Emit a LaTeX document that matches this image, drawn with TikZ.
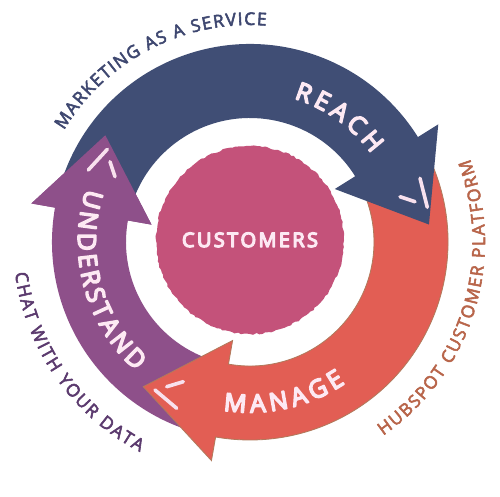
\documentclass[tikz,border=0pt]{standalone}
\usepackage{fontspec}
\usetikzlibrary{decorations.text,decorations.pathmorphing}
\newfontfamily\ringfont{Open Sans}
\newfontfamily\outfont{Open Sans}
\definecolor{reachblue}{HTML}{404E75}
\definecolor{undpurple}{HTML}{8E508A}
\definecolor{manorange}{HTML}{E25E54}
\definecolor{manedge}{HTML}{B07A5C}
\definecolor{custpink}{HTML}{C4527A}
\definecolor{labwhite}{HTML}{FDE9F3}
\definecolor{mktext}{HTML}{3E4770}
\definecolor{hstext}{HTML}{B8654A}
\definecolor{chtext}{HTML}{5B3A6E}
\definecolor{markwhite}{HTML}{F8E1EE}
% stroke the glyph outlines as well as filling them (emboldening)
\newcommand\strokeglyphs[1]{\special{pdf:literal direct 2 Tr #1 w 1 j}}
\newcommand\ringfmt{\ringfont\fontsize{25}{28}\selectfont\color{labwhite}\strokeglyphs{1.5}}
\newcommand\custfmt{\ringfont\fontsize{20}{23}\selectfont\color{labwhite}\strokeglyphs{1.3}}
\newcommand\mkfmt{\outfont\fontsize{17.5}{20}\selectfont\color{mktext}\strokeglyphs{0.55}}
\newcommand\hsfmt{\outfont\fontsize{17.5}{20}\selectfont\color{hstext}\strokeglyphs{0.55}}
\newcommand\chfmt{\outfont\fontsize{17.5}{20}\selectfont\color{chtext}\strokeglyphs{0.55}}
\begin{document}
\begin{tikzpicture}[x=1pt,y=1pt,
  hilite/.style={draw=markwhite, line width=3.6pt, line cap=round},
  ringlabel/.style={decorate, decoration={text along path, text align={fit to path}, text={#1}}},
]
\useasboundingbox (0,0) rectangle (500,496);
\fill[white] (0,0) rectangle (500,496);
\pgfmathsetseed{7}
\begin{scope}[shift={(250,254)}]
  % central blob
  \fill[custpink, decorate, decoration={random steps, segment length=3pt, amplitude=0.8pt}]
    (0,2) circle[radius=94];
  % UNDERSTAND arrow (purple)
  \fill[undpurple] (252:198) arc[start angle=252, end angle=170, radius=198]
    -- (170:222) -- (143.58:179.8) -- (170:100) -- (170:124)
    arc[start angle=170, end angle=252, radius=124] -- cycle;
  % MANAGE arrow (orange)
  \filldraw[fill=manorange, draw=manedge, line width=0.8pt, line join=miter]
    (24:198) arc[start angle=24, end angle=-100, radius=198]
    -- (-100:222) -- (-126.42:179.8) -- (-100:100) -- (-100:124)
    arc[start angle=-100, end angle=24, radius=124] -- cycle;
  % REACH arrow (blue)
  \fill[reachblue] (162:198) arc[start angle=162, end angle=32, radius=198]
    -- (32:222) -- (5.58:179.8) -- (32:100) -- (32:124)
    arc[start angle=32, end angle=162, radius=124] -- cycle;
  % purple head on top of blue tail
  \fill[undpurple] (170:222) -- (143.58:179.8) -- (170:100) -- cycle;
  % highlight strokes
  \draw[hilite] (170,63.7) -- (177.3,34.7);
  \draw[hilite] (150,45.3) -- (165,40.3);
  \draw[hilite] (-142.7,92.7) -- (-161.7,72);
  \draw[hilite] (-140,80.3) -- (-135,65.3);
  \draw[hilite] (-83.3,-144.7) -- (-66.7,-139.7);
  \draw[hilite] (-95,-148) -- (-73.3,-166.3);
  % ring labels
  \path[ringlabel={|\ringfmt|REACH}] (73:150) arc[start angle=73, end angle=36, radius=150];
  \path[ringlabel={|\ringfmt|MANAGE}] (261:170.5) arc[start angle=261, end angle=304, radius=170.5];
  \path[ringlabel={|\ringfmt|UNDERSTAND}] (162:172) arc[start angle=162, end angle=228.5, radius=172];
  \path[ringlabel={|\custfmt|CUSTOMERS}] (-68,-5) -- (68,-5);
  % outer labels
  \path[ringlabel={|\mkfmt|MARKETING AS A SERVICE}] (149:217) arc[start angle=149, end angle=85.7, radius=217];
  \path[ringlabel={|\hsfmt|HUBSPOT CUSTOMER PLATFORM}] (-55.5:235) arc[start angle=-55.5, end angle=20.7, radius=235];
  \path[ringlabel={|\chfmt|CHAT WITH YOUR DATA}] (187.5:237) arc[start angle=187.5, end angle=242.3, radius=237];
\end{scope}
\end{tikzpicture}
\end{document}
